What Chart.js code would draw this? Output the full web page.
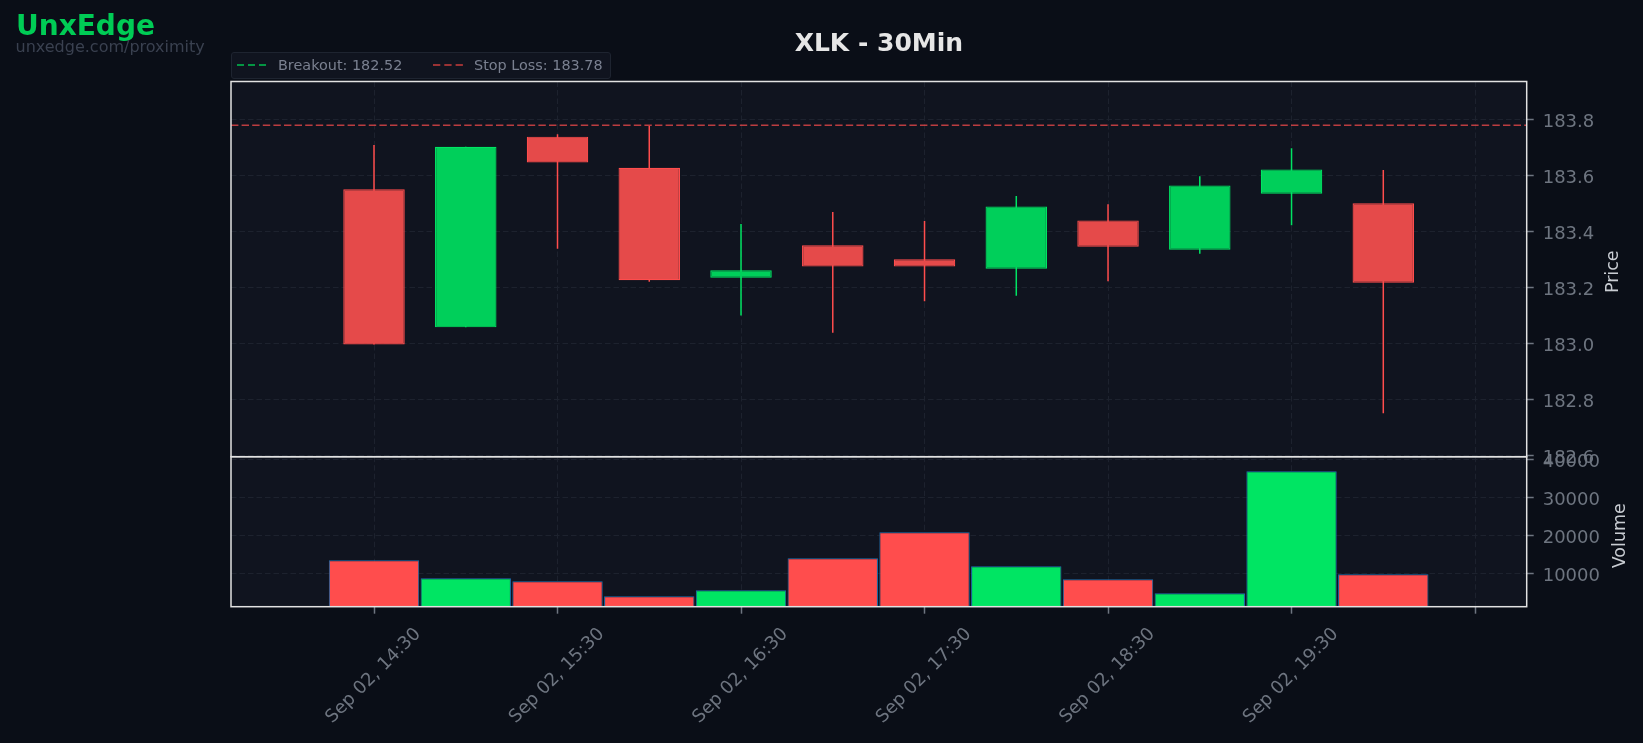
<!DOCTYPE html>
<html>
<head>
<meta charset="utf-8">
<script src="https://cdn.jsdelivr.net/npm/chart.js@4.4.1/dist/chart.umd.min.js"></script>
<style>
  html, body { margin: 0; padding: 0; background: #0a0e17; }
  #wrap { position: relative; width: 1643px; height: 743px; background: #0a0e17; overflow: hidden; font-family: 'DejaVu Sans', sans-serif; }
  canvas { position: absolute; left: 0; top: 0; }
  .txt { position: absolute; white-space: nowrap; z-index: 5; }
  #brand { left: 16px; top: 12.3px; font-size: 28px; line-height: 28px; font-weight: bold; color: #00cc55; }
  #url { left: 15.5px; top: 38.5px; font-size: 16px; line-height: 16px; color: #3a4150; }
  #title { left: 231px; width: 1295.7px; text-align: center; top: 30px; font-size: 25px; line-height: 25px; font-weight: bold; color: #e6e6e6; }
  #legend { position: absolute; left: 231px; top: 51.7px; width: 380px; height: 27px; background: #10141f; border: 1px solid #1e2430; border-radius: 3px; z-index: 4; box-sizing: border-box; }
  .leg { font-size: 14.4px; line-height: 14.4px; color: #7a8090; }
  .ylab { font-size: 17.5px; line-height: 17.5px; color: #c9cdd3; width: 200px; text-align: center; transform: rotate(-90deg); transform-origin: 50% 50%; }
  svg { position: absolute; z-index: 5; }
</style>
</head>
<body>
<div id="wrap">
  <canvas id="volCanvas" width="1643" height="743"></canvas>
  <canvas id="priceCanvas" width="1643" height="743"></canvas>
  <div id="brand" class="txt">UnxEdge</div>
  <div id="url" class="txt">unxedge.com/proximity</div>
  <div id="title" class="txt">XLK - 30Min</div>
  <div id="legend"></div>
  <svg style="left:235px;top:60px" width="36" height="10"><line x1="2" y1="5" x2="32" y2="5" stroke="#00c050" stroke-width="1.7" stroke-dasharray="7,4"/></svg>
  <div class="txt leg" style="left:278px;top:57.8px;">Breakout: 182.52</div>
  <svg style="left:431px;top:60px" width="36" height="10"><line x1="2" y1="5" x2="32" y2="5" stroke="#c83c3c" stroke-width="1.7" stroke-dasharray="7.3,4"/></svg>
  <div class="txt leg" style="left:474px;top:57.8px;">Stop Loss: 183.78</div>
  <div class="txt ylab" style="left:1513px;top:263px;">Price</div>
  <div class="txt ylab" style="left:1520px;top:526.5px;">Volume</div>
</div>
<script>
// ---- Data ----
const times = ['14:30','15:00','15:30','16:00','16:30','17:00','17:30','18:00','18:30','19:00','19:30','20:00'];
const opens  = [183.551, 183.058, 183.739, 183.628, 183.235, 183.351, 183.301, 183.267, 183.440, 183.335, 183.535, 183.501];
const highs  = [183.709, 183.703, 183.748, 183.777, 183.427, 183.470, 183.438, 183.527, 183.498, 183.598, 183.698, 183.620];
const lows   = [182.997, 183.058, 183.339, 183.221, 183.100, 183.039, 183.151, 183.171, 183.223, 183.321, 183.423, 182.751];
const closes = [182.997, 183.703, 183.647, 183.226, 183.262, 183.275, 183.275, 183.490, 183.346, 183.565, 183.622, 183.217];
const volumes = [13526, 8790, 8000, 4050, 5630, 14050, 20890, 11950, 8530, 4840, 36950, 9840];
const breakoutLevel = 182.52;
const stopLossLevel = 183.78;
const xTickValues = [0, 2, 4, 6, 8, 10, 12];
const xTickLabels = ['Sep 02, 14:30', 'Sep 02, 15:30', 'Sep 02, 16:30', 'Sep 02, 17:30', 'Sep 02, 18:30', 'Sep 02, 19:30', ''];
const priceTicks = [182.6, 182.8, 183.0, 183.2, 183.4, 183.6, 183.8];
const volumeTicks = [10000, 20000, 30000, 40000];
const xRange = [-1.5586, 12.563];
const priceRange = [182.596, 183.936];
const volumeRange = [1316, 40789];

// ---- Styles ----
const FONT = 'DejaVu Sans';
const gridColor = '#1d222e';
const tickLabelColor = '#6e7580';
const tickMarkColor = '#6e7580';
const upBody = '#00cf5a', upEdge = '#00e463';
const dnBody = '#e54a4a', dnEdge = '#ff4d4d';
const upVol = '#00e563', dnVol = '#ff4d4d';

const idx = times.map((_, i) => i);
const isUp = idx.map(i => closes[i] >= opens[i]);

const framePlugin = {
  id: 'frame',
  beforeDraw(chart) {
    const {ctx, chartArea: a} = chart;
    ctx.save();
    ctx.fillStyle = '#10141f';
    ctx.fillRect(a.left, a.top, a.right - a.left, a.bottom - a.top);
    ctx.restore();
  },
  afterDraw(chart) {
    const {ctx, chartArea: a} = chart;
    ctx.save();
    ctx.strokeStyle = '#e2e2e2';
    ctx.lineWidth = 1.5;
    ctx.strokeRect(a.left, a.top, a.right - a.left, a.bottom - a.top);
    ctx.restore();
  }
};

function xTicksSetter(scale) { scale.ticks = xTickValues.map(v => ({value: v})); }

const common = {
  responsive: false,
  animation: false,
  devicePixelRatio: 1,
  events: [],
  plugins: { legend: { display: false }, tooltip: { enabled: false } }
};

// ---- Price chart ----
new Chart(document.getElementById('priceCanvas'), {
  type: 'bar',
  data: {
    datasets: [
      {
        type: 'line', order: 0,
        data: [{x: xRange[0], y: stopLossLevel}, {x: xRange[1], y: stopLossLevel}],
        borderColor: 'rgba(255,77,77,0.72)', borderWidth: 1.5, borderDash: [7.4, 3.2],
        pointRadius: 0
      },
      {
        type: 'line', order: 0,
        data: [{x: xRange[0], y: breakoutLevel}, {x: xRange[1], y: breakoutLevel}],
        borderColor: 'rgba(0,200,83,0.8)', borderWidth: 1.5, borderDash: [7.4, 3.2],
        pointRadius: 0
      },
      {
        order: 2,
        data: idx.map(i => ({x: i, y: [lows[i], highs[i]]})),
        backgroundColor: idx.map(i => isUp[i] ? upEdge : dnEdge),
        borderWidth: 0,
        barPercentage: 0.02, categoryPercentage: 1, maxBarThickness: 1.5,
        grouped: false
      },
      {
        order: 1,
        data: idx.map(i => ({x: i, y: [opens[i], closes[i]]})),
        backgroundColor: idx.map(i => isUp[i] ? upBody : dnBody),
        borderColor: idx.map(i => isUp[i] ? upEdge : dnEdge),
        borderWidth: 1.2, borderSkipped: false,
        barPercentage: 0.67, categoryPercentage: 1,
        grouped: false
      }
    ]
  },
  options: Object.assign({}, common, {
    layout: { padding: { left: 231, top: 81.5, right: 0, bottom: 286.3 } },
    scales: {
      x: {
        type: 'linear', min: xRange[0], max: xRange[1], offset: false,
        afterBuildTicks: xTicksSetter,
        ticks: { display: false },
        grid: { color: gridColor, lineWidth: 1, drawTicks: false, offset: false },
        border: { display: false, dash: [5.5, 3] },
        afterFit: s => { s.height = 0; }
      },
      y: {
        type: 'linear', position: 'right', min: priceRange[0], max: priceRange[1],
        afterBuildTicks: s => { s.ticks = priceTicks.map(v => ({value: v})); },
        ticks: { color: tickLabelColor, font: { family: FONT, size: 18 }, padding: 9, autoSkip: false, labelOffset: 2.5,
                 callback: v => Number(v).toFixed(1) },
        grid: { color: gridColor, lineWidth: 1, tickColor: tickMarkColor, tickLength: 7, tickWidth: 1.5 },
        border: { display: false, dash: [5.5, 3] },
        afterFit: s => { s.width = 116.3; }
      }
    }
  }),
  plugins: [framePlugin]
});

// ---- Volume chart ----
new Chart(document.getElementById('volCanvas'), {
  type: 'bar',
  data: {
    datasets: [{
      data: idx.map(i => ({x: i, y: volumes[i]})),
      backgroundColor: idx.map(i => isUp[i] ? upVol : dnVol),
      borderColor: '#1f6fae', borderWidth: 1, borderSkipped: false,
      barPercentage: 0.985, categoryPercentage: 1,
      grouped: false
    }]
  },
  options: Object.assign({}, common, {
    layout: { padding: { left: 231, top: 456.7, right: 0, bottom: 0 } },
    scales: {
      x: {
        type: 'linear', min: xRange[0], max: xRange[1], offset: false,
        afterBuildTicks: xTicksSetter,
        ticks: { color: tickLabelColor, font: { family: FONT, size: 18 }, autoSkip: false,
                 maxRotation: 45, minRotation: 45, padding: 10, labelOffset: 44,
                 callback: (v, i) => xTickLabels[i] },
        grid: { color: gridColor, lineWidth: 1, tickColor: tickMarkColor, tickLength: 7, tickWidth: 1.5, offset: false },
        border: { display: false, dash: [5.5, 3] },
        afterFit: s => { s.height = 136.3; }
      },
      y: {
        type: 'linear', position: 'right', min: volumeRange[0], max: volumeRange[1],
        afterBuildTicks: s => { s.ticks = volumeTicks.map(v => ({value: v})); },
        ticks: { color: tickLabelColor, font: { family: FONT, size: 18 }, padding: 9, autoSkip: false, labelOffset: 2.5,
                 callback: v => String(Math.round(v)) },
        grid: { color: gridColor, lineWidth: 1, tickColor: tickMarkColor, tickLength: 7, tickWidth: 1.5 },
        border: { display: false, dash: [5.5, 3] },
        afterFit: s => { s.width = 116.3; }
      }
    }
  }),
  plugins: [framePlugin]
});
</script>
</body>
</html>
